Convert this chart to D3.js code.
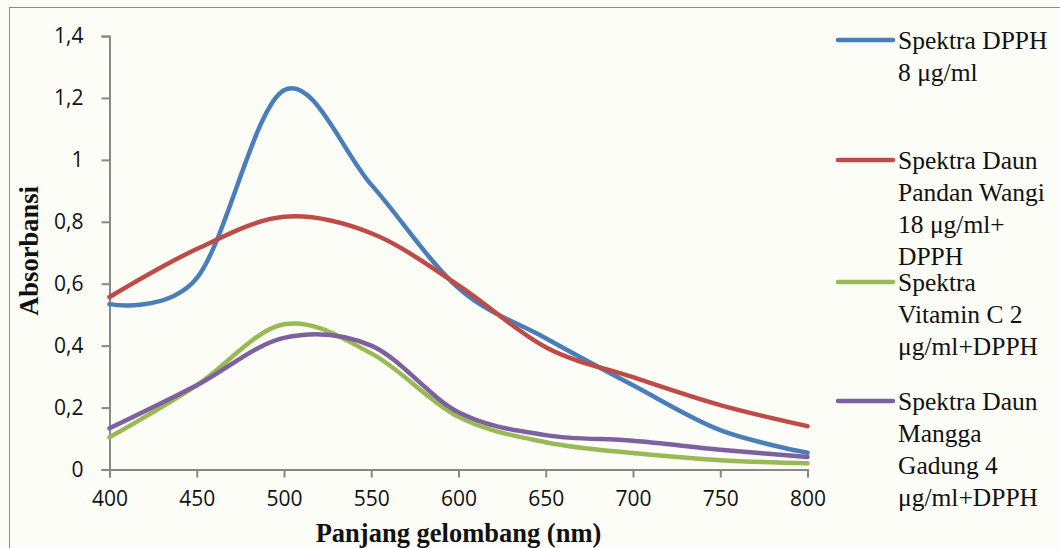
<!DOCTYPE html>
<html><head><meta charset="utf-8">
<script src="https://cdn.jsdelivr.net/npm/d3@7"></script>
<style>html,body{margin:0;padding:0;background:#fcfdf7;}svg{display:block;}</style>
</head><body><svg id="c" width="1060" height="548"></svg>
<script>
const wavelengths = [400,450,500,550,600,650,700,750,800];
const dpph      = [0.534,0.618,1.225,0.92,0.586,0.424,0.272,0.127,0.054];
const pandan    = [0.557,0.712,0.816,0.763,0.595,0.395,0.298,0.208,0.14];
const vitaminC  = [0.104,0.272,0.469,0.375,0.17,0.088,0.053,0.03,0.02];
const mangga    = [0.133,0.272,0.425,0.4,0.185,0.111,0.093,0.064,0.04];
const seriesNames = [
  ["Spektra DPPH","8 μg/ml"],
  ["Spektra Daun","Pandan Wangi","18 μg/ml+","DPPH"],
  ["Spektra","Vitamin C 2","μg/ml+DPPH"],
  ["Spektra Daun","Mangga","Gadung 4","μg/ml+DPPH"]
];
const colors = ["#4a7ebb","#be4b48","#98b954","#7d60a0"];
const xTicks = [400,450,500,550,600,650,700,750,800];
const yTicks = [0,0.2,0.4,0.6,0.8,1,1.2,1.4];
const yTickLabels = ["0","0,2","0,4","0,6","0,8","1","1,2","1,4"];
const xTitle = "Panjang gelombang (nm)";
const yTitle = "Absorbansi";

const svg = d3.select("#c");
svg.append("rect").attr("x",9.5).attr("y",7.5).attr("width",1100).attr("height",600)
  .attr("fill","#fcfdf7").attr("stroke","#8c8c8c").attr("stroke-width",1);

const x = d3.scaleLinear().domain([400,800]).range([109.5,807.5]);
const y = d3.scaleLinear().domain([0,1.4]).range([469.5,36]);

const axisColor = "#888";
const gx = svg.append("g").attr("transform","translate(0,469.5)")
  .call(d3.axisBottom(x).tickValues(xTicks).tickSize(8).tickPadding(14).tickFormat(d3.format("d")));
const gy = svg.append("g").attr("transform","translate(109.5,0)")
  .call(d3.axisLeft(y).tickValues(yTicks).tickSize(8).tickPadding(18).tickFormat((d,i)=>yTickLabels[i]));
[gx,gy].forEach(g=>{
  g.select(".domain").attr("stroke",axisColor).attr("stroke-width",2);
  g.selectAll(".tick line").attr("stroke",axisColor).attr("stroke-width",2);
  g.selectAll(".tick text").attr("fill","#111").style("font-family","'Open Sans', sans-serif").style("font-size","21px");
});

const data = [dpph,pandan,vitaminC,mangga];
const line = d3.line().x((d,i)=>x(wavelengths[i])).y(d=>y(d)).curve(d3.curveCardinal.tension(0));
data.forEach((s,k)=>{
  svg.append("path").datum(s).attr("d",line).attr("fill","none")
    .attr("stroke",colors[k]).attr("stroke-width",4.5).attr("stroke-linecap","round");
});

const serif = "'Liberation Serif','Times New Roman',Times,serif";
svg.append("text").attr("x",458.5).attr("y",542).attr("text-anchor","middle")
  .style("font-family",serif).style("font-weight","bold").style("font-size","26.5px")
  .attr("fill","#111").text(xTitle);
svg.append("text").attr("transform","translate(38,251) rotate(-90)").attr("text-anchor","middle")
  .style("font-family",serif).style("font-weight","bold").style("font-size","26.5px")
  .attr("fill","#111").text(yTitle);

const legendY = [40,160,282,401];
seriesNames.forEach((lines,k)=>{
  svg.append("line").attr("x1",838).attr("x2",893).attr("y1",legendY[k]).attr("y2",legendY[k])
    .attr("stroke",colors[k]).attr("stroke-width",4.5).attr("stroke-linecap","round");
  lines.forEach((t,j)=>{
    svg.append("text").attr("x",898).attr("y",legendY[k]+32*j).attr("dy","0.35em")
      .style("font-family",serif).style("font-size","25.5px")
      .attr("fill","#111").text(t);
  });
});
</script></body></html>
